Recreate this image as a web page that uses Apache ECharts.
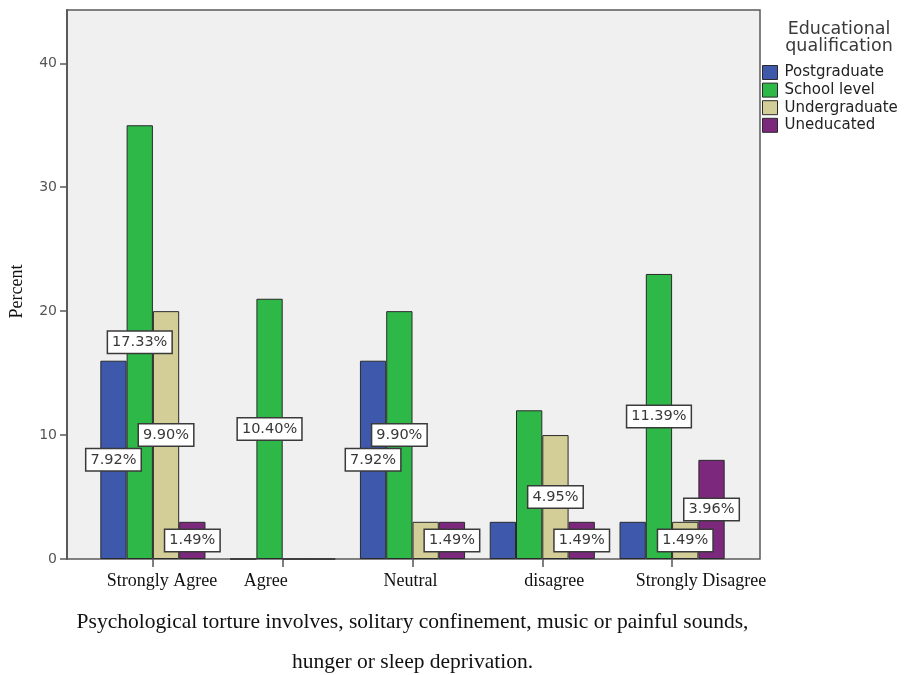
<!DOCTYPE html>
<html>
<head>
<meta charset="utf-8">
<script src="https://cdn.jsdelivr.net/npm/echarts@6/dist/echarts.min.js"></script>
<style>
  html, body { margin: 0; padding: 0; background: #ffffff; }
  #chart { width: 907px; height: 675px; }
</style>
</head>
<body>
<div id="chart"></div>
<script>
// Responses to the statement, grouped by educational qualification
const categories = ['Strongly Agree', 'Agree', 'Neutral', 'disagree', 'Strongly Disagree'];
const seriesNames = ['Postgraduate', 'School level', 'Undergraduate', 'Uneducated'];

// Bar heights (Percent)
const postgraduate  = [16, 0, 16, 3, 3];
const schoolLevel   = [35, 21, 20, 12, 23];
const undergraduate = [20, 0, 3, 10, 3];
const uneducated    = [3, 0, 3, 3, 8];

// Share of all respondents printed in the boxed labels (null = no label)
const postgraduateShare  = [7.92, null, 7.92, null, null];
const schoolLevelShare   = [17.33, 10.40, 9.90, null, 11.39];
const undergraduateShare = [9.90, null, null, 4.95, 1.49];
const uneducatedShare    = [1.49, null, 1.49, 1.49, 3.96];

const yTicks = [0, 10, 20, 30, 40];

const palette = ['#3E58AC', '#2EB848', '#D3CE97', '#7C287D'];
const values = [postgraduate, schoolLevel, undergraduate, uneducated];
const shares = [postgraduateShare, schoolLevelShare, undergraduateShare, uneducatedShare];

const Y_MAX = 44.3;
const SANS = 'DejaVu Sans, Verdana, sans-serif';
const SERIF = 'Liberation Serif, Times New Roman, serif';

// horizontal nudge of each category label (px); the text sits a little off its tick
const labelNudge = [18, -34, -4, 24, 58];

const boxLabel = {
  show: true,
  position: 'inside',
  formatter: p => p.data.share.toFixed(2) + '%',
  fontFamily: SANS,
  fontSize: 14.5,
  lineHeight: 16,
  color: '#383838',
  backgroundColor: '#ffffff',
  borderColor: '#3a3a3a',
  borderWidth: 1.5,
  padding: [3, 4, 2, 4]
};

const series = seriesNames.map((name, i) => ({
  name,
  type: 'bar',
  xAxisIndex: 1,
  yAxisIndex: 1,
  barGap: '0%',
  barCategoryGap: '19%',
  itemStyle: { color: palette[i], borderColor: '#2a2a2a', borderWidth: 1 },
  data: values[i].map((v, j) => {
    const item = { value: v, share: shares[i][j] };
    if (shares[i][j] != null) item.label = boxLabel;
    return item;
  }),
  z: 3
}));

const rich = {};
labelNudge.forEach((n, i) => {
  rich['c' + i] = {
    fontFamily: SERIF,
    fontSize: 18,
    color: '#111',
    padding: n >= 0 ? [0, 0, 0, n] : [0, -n, 0, 0]
  };
});

const chart = echarts.init(document.getElementById('chart'), null, { renderer: 'canvas' });
chart.setOption({
  backgroundColor: '#ffffff',
  animation: false,
  title: {
    text: 'Educational\nqualification',
    left: 834,
    top: 16,
    textAlign: 'center',
    textStyle: {
      fontFamily: SANS,
      fontSize: 17.5,
      fontWeight: 'normal',
      color: '#3a3a3a',
      lineHeight: 17,
      align: 'center'
    }
  },
  legend: {
    orient: 'vertical',
    left: 757,
    top: 60,
    itemWidth: 15,
    itemHeight: 14,
    itemGap: 2.6,
    icon: 'rect',
    data: seriesNames,
    itemStyle: { borderColor: '#2a2a2a', borderWidth: 1 },
    textStyle: {
      fontFamily: SANS,
      fontSize: 15,
      lineHeight: 14,
      color: '#222',
      padding: [0, 0, 0, 2]
    }
  },
  grid: [
    { // framed plot background
      left: 67, right: 147, top: 10, bottom: 116,
      outerBoundsMode: 'none',
      containLabel: false,
      show: true,
      backgroundColor: '#f0f0f0',
      borderColor: '#5a5a5a',
      borderWidth: 1.5
    },
    { // inner band for the bars
      left: 88, right: 170, top: 10, bottom: 116,
      outerBoundsMode: 'none',
      containLabel: false
    }
  ],
  xAxis: [
    { type: 'value', gridIndex: 0, show: false, min: 0, max: 1 },
    {
      type: 'category',
      gridIndex: 1,
      data: categories,
      axisLine: { show: false },
      axisTick: { show: true, alignWithLabel: true, length: 8, lineStyle: { color: '#555', width: 1.5 } },
      axisLabel: {
        margin: 13,
        interval: 0,
        formatter: (v, i) => '{c' + i + '|' + v + '}',
        rich
      },
      name: 'Psychological torture involves, solitary confinement, music or painful sounds,\nhunger or sleep deprivation.',
      nameLocation: 'middle',
      nameGap: 43,
      nameTextStyle: {
        fontFamily: SERIF,
        fontSize: 21.5,
        color: '#111',
        lineHeight: 40
      }
    }
  ],
  yAxis: [
    {
      type: 'value',
      gridIndex: 0,
      min: 0,
      max: Y_MAX,
      interval: 10,
      splitLine: { show: false },
      axisLine: { show: true, lineStyle: { color: '#5a5a5a', width: 2 } },
      axisTick: { show: true, length: 7, customValues: yTicks, lineStyle: { color: '#5a5a5a', width: 1.5 } },
      axisLabel: {
        customValues: yTicks,
        margin: 10,
        fontFamily: SANS,
        fontSize: 14,
        color: '#555'
      },
      name: 'Percent',
      nameLocation: 'middle',
      nameGap: 41,
      nameTextStyle: {
        fontFamily: SERIF,
        fontSize: 18,
        color: '#111',
        padding: [0, 14, 0, 0]
      }
    },
    { type: 'value', gridIndex: 1, show: false, min: 0, max: Y_MAX, splitLine: { show: false } }
  ],
  series
});
</script>
</body>
</html>
